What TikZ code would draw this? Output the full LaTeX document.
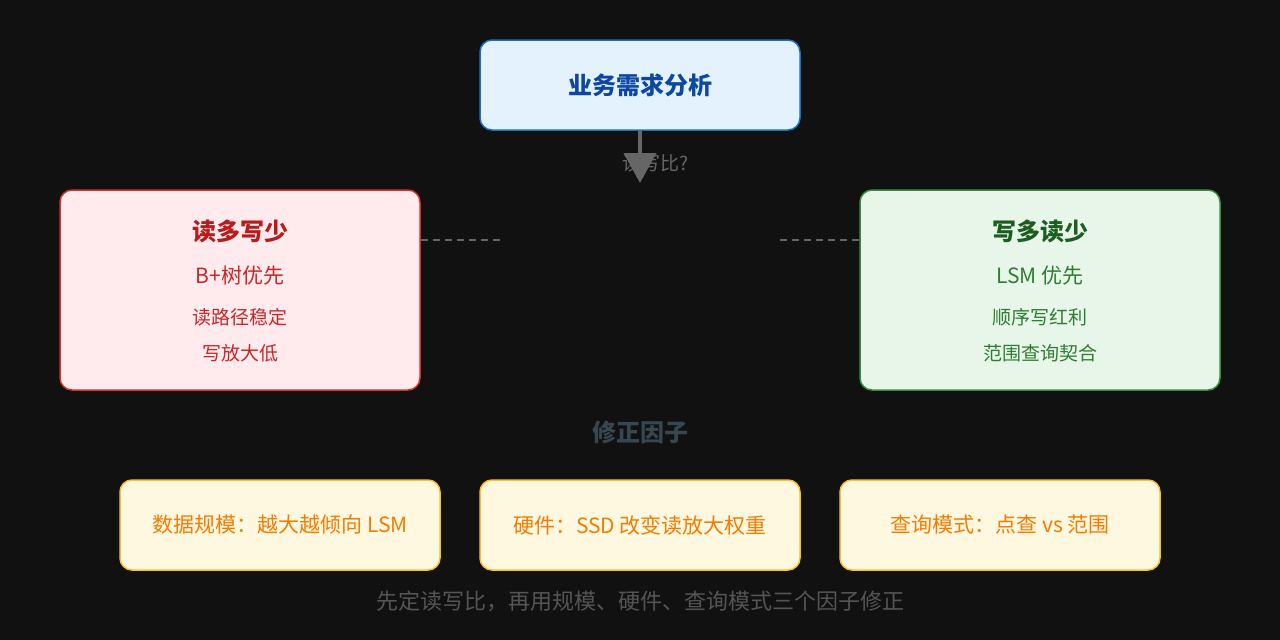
\documentclass[tikz,border=0pt]{standalone}
\usepackage{fontspec}
\setmainfont{Noto Sans CJK SC}
\usetikzlibrary{arrows.meta}
\definecolor{bgc}{HTML}{111111}
\definecolor{topfill}{HTML}{E3F2FD}
\definecolor{topline}{HTML}{1E6FC0}
\definecolor{toptext}{HTML}{0D47A1}
\definecolor{redfill}{HTML}{FFEBEE}
\definecolor{redline}{HTML}{D32F2F}
\definecolor{redtext}{HTML}{B71C1C}
\definecolor{redsub}{HTML}{C62828}
\definecolor{grnfill}{HTML}{E8F5E9}
\definecolor{grnline}{HTML}{388E3C}
\definecolor{grntext}{HTML}{1B5E20}
\definecolor{grnsub}{HTML}{2E7D32}
\definecolor{ylwfill}{HTML}{FFF8E1}
\definecolor{ylwline}{HTML}{FBC02D}
\definecolor{ylwtext}{HTML}{F57C00}
\definecolor{flow}{HTML}{666666}
\definecolor{fixtext}{HTML}{37474F}
\definecolor{notetext}{HTML}{555555}
\tikzset{
  box/.style={draw, line width=1.5pt, rounded corners=12pt, minimum width=#1},
  box/.default={320pt},
}
\begin{document}
\begin{tikzpicture}[x=1pt,y=-1pt]
\fill[bgc] (0,0) rectangle (1280,640);
\useasboundingbox (0,0) rectangle (1280,640);
% question box
\node[box, fill=topfill, draw=topline, minimum height=90pt, text=toptext, font=\fontsize{24}{28}\selectfont\bfseries] (need) at (640,85) {业务需求分析};
% two branches
\node[box=360pt, fill=redfill, draw=redline, minimum height=200pt] (read) at (240,290) {};
\node[font=\fontsize{24}{28}\selectfont\bfseries, text=redtext] at (240,231) {读多写少};
\node[font=\fontsize{21}{24}\selectfont, text=redsub] at (240,276) {B+树优先};
\node[font=\fontsize{19}{22}\selectfont, text=redsub] at (240,317) {读路径稳定};
\node[font=\fontsize{19}{22}\selectfont, text=redsub] at (240,353) {写放大低};
\node[box=360pt, fill=grnfill, draw=grnline, minimum height=200pt] (write) at (1040,290) {};
\node[font=\fontsize{24}{28}\selectfont\bfseries, text=grntext] at (1040,231) {写多读少};
\node[font=\fontsize{21}{24}\selectfont, text=grnsub] at (1040,276) {LSM 优先};
\node[font=\fontsize{19}{22}\selectfont, text=grnsub] at (1040,317) {顺序写红利};
\node[font=\fontsize{19}{22}\selectfont, text=grnsub] at (1040,353) {范围查询契合};
% decision
\node[font=\fontsize{19}{22}\selectfont, text=flow] (ratio) at (655,163) {读写比?};
\coordinate (tip) at (640,183);
\draw[flow, line width=4pt, -{Triangle[length=30pt,width=32pt]}] (need) -- (tip);
\coordinate (rl) at (500,240);
\coordinate (wr) at (780,240);
\draw[flow, line width=2.5pt, dash pattern=on 7pt off 5pt] (read.east |- rl) -- (rl);
\draw[flow, line width=2.5pt, dash pattern=on 7pt off 5pt] (wr) -- (write.west |- wr);
% factors
\node[font=\fontsize{24}{28}\selectfont\bfseries, text=fixtext] (fix) at (640,432) {修正因子};
\foreach \x/\name/\txt in {280/scale/数据规模：越大越倾向 LSM, 640/hw/硬件：SSD 改变读放大权重, 1000/query/查询模式：点查 vs 范围}
  \node[box, fill=ylwfill, draw=ylwline, minimum height=90pt, text=ylwtext, font=\fontsize{21}{24}\selectfont] (\name) at (\x,525) {\txt};
\node[font=\fontsize{22}{26}\selectfont, text=notetext] (note) at (640,601) {先定读写比，再用规模、硬件、查询模式三个因子修正};
\end{tikzpicture}
\end{document}
